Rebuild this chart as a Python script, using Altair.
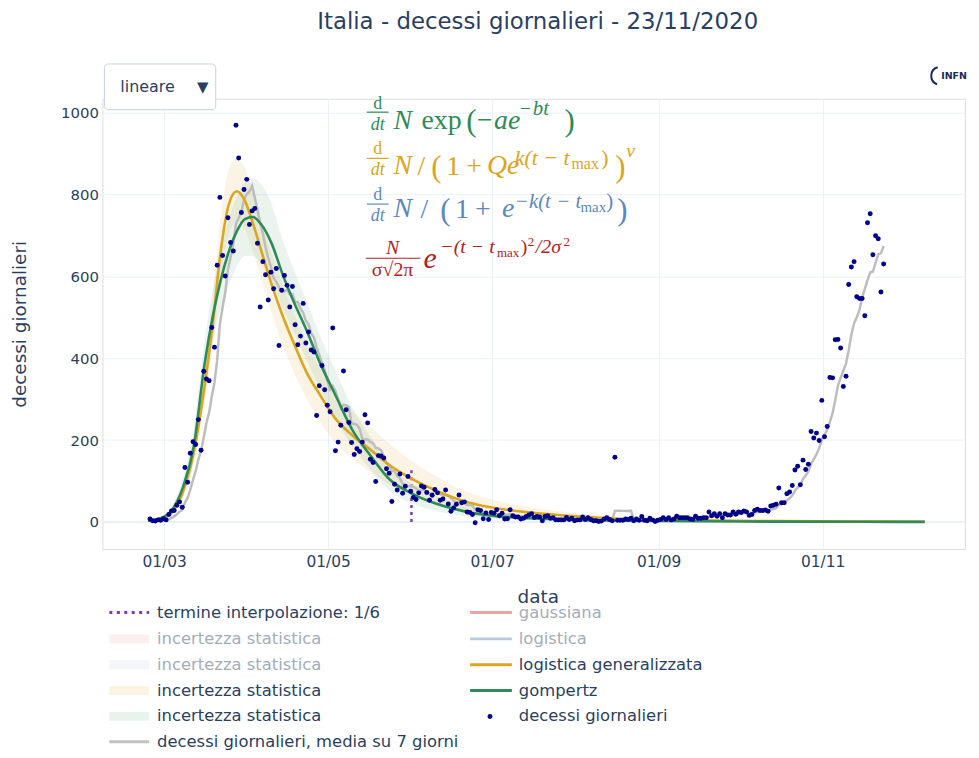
import altair as alt
import pandas as pd

# ---------------- data ----------------
start_date = "2020-02-24"
deaths_feb = [7, 3, 2, 5, 4, 8]
deaths_mar = [5, 18, 27, 28, 41, 49, 36, 133, 97, 168, 196, 189, 250, 175, 368, 349,
              345, 475, 427, 627, 793, 651, 601, 743, 683, 662, 969, 889, 756, 812, 837]
deaths_apr = [727, 760, 766, 681, 525, 636, 604, 542, 610, 570, 619, 431, 566, 602, 578,
              525, 575, 482, 433, 454, 534, 437, 464, 420, 415, 260, 333, 382, 323, 285]
deaths_may = [269, 474, 174, 195, 236, 369, 274, 243, 194, 165, 179, 172, 195, 262, 242,
              153, 145, 99, 162, 161, 156, 130, 119, 50, 92, 78, 117, 70, 87, 111, 75]
deaths_jun = [60, 55, 71, 88, 85, 72, 53, 65, 79, 71, 53, 56, 78, 44, 26, 34, 43, 66, 47,
              49, 24, 23, 18, -2, 30, 28, 8, 22, 6, 23]
deaths_jul = [21, 30, 15, 21, 7, 8, 30, 15, 12, 12, 7, 9, 13, 17, 20, 11, 13, 12, 3, 13,
              15, 9, 10, 5, 5, 5, 5, 11, 6, 9, 3]
deaths_aug = [5, 5, 12, 6, 10, 6, 3, 3, 1, 2, 7, 10, 6, 3, 158, 4, 4, 4, 7, 6, 9, 3, 7,
              4, 13, 4, 3, 9, 5, 1, 4]
deaths_sep = [6, 10, 6, 10, 5, 7, 14, 10, 10, 10, 10, 7, 6, 14, 9, 9, 10, 10, 24, 15, 20,
              14, 20, 10, 20, 17, 17, 24, 19, 24]
deaths_oct = [23, 27, 24, 16, 18, 28, 31, 28, 28, 29, 26, 39, 41, 43, 83, 47, 47, 69, 73,
              89, 127, 136, 91, 151, 128, 141, 221, 205, 217, 199, 297]
deaths_nov = [208, 233, 353, 352, 445, 446, 425, 331, 356, 580, 623, 636, 550, 546, 546,
              504, 731, 753, 653, 699, 692, 562, 630]

daily = (deaths_feb + deaths_mar + deaths_apr + deaths_may + deaths_jun + deaths_jul +
         deaths_aug + deaths_sep + deaths_oct + deaths_nov)
# bulletins are published at 17:00 each day
dates = (pd.date_range(start_date, periods=len(daily), freq="D")
         .strftime("%Y-%m-%dT17:00:00Z").tolist())

fit_dates = ["2020-02-24", "2020-02-29", "2020-03-04", "2020-03-08", "2020-03-12",
             "2020-03-16", "2020-03-19", "2020-03-22", "2020-03-25", "2020-03-28",
             "2020-03-31", "2020-04-03", "2020-04-06", "2020-04-10", "2020-04-14",
             "2020-04-18", "2020-04-23", "2020-04-28", "2020-05-04", "2020-05-10",
             "2020-05-17", "2020-05-24", "2020-06-01", "2020-06-10", "2020-06-20",
             "2020-07-01", "2020-07-15", "2020-08-01", "2020-08-20", "2020-09-15",
             "2020-10-15", "2020-11-15", "2020-12-09"]
# logistica generalizzata (orange)
gl_fit = [3, 8, 25, 75, 170, 330, 480, 660, 775, 808, 785, 730, 665, 580, 505, 440, 365,
          310, 250, 212, 175, 138, 106, 77, 52, 35, 23, 14, 7, 4, 2, 1, 0.5]
gl_lo = [1, 5, 18, 58, 140, 285, 420, 590, 700, 735, 715, 660, 595, 510, 435, 370, 300,
         245, 190, 155, 120, 90, 65, 45, 29, 18, 11, 6, 3, 1.5, 0.7, 0.3, 0.2]
gl_hi = [6, 13, 35, 95, 205, 385, 550, 745, 860, 890, 865, 805, 740, 655, 580, 515, 435,
         375, 310, 270, 230, 190, 150, 112, 78, 55, 36, 22, 12, 7, 3.5, 1.8, 1]
# gompertz (green)
gz_fit = [3, 10, 30, 85, 185, 385, 500, 590, 660, 710, 740, 745, 728, 680, 606, 541, 468,
          388, 306, 225, 160, 103, 70, 45, 27, 15, 9, 5, 3, 1.5, 0.7, 0.3, 0.2]
gz_lo = [1, 6, 20, 62, 150, 330, 440, 520, 580, 625, 650, 650, 630, 590, 525, 465, 395,
         325, 250, 185, 125, 75, 45, 27, 15, 8, 4, 2, 1, 0.5, 0.2, 0.1, 0.05]
gz_hi = [6, 14, 42, 110, 225, 440, 565, 660, 740, 795, 830, 840, 825, 775, 690, 620, 540,
         455, 365, 280, 205, 135, 95, 64, 40, 24, 14, 8, 5, 3, 1.5, 0.6, 0.4]

interp_date = ["2020-06-01"]
interp_low = [0]
interp_high = [128]

legend_left = ["termine interpolazione: 1/6", "incertezza statistica", "incertezza statistica",
               "incertezza statistica", "incertezza statistica",
               "decessi giornalieri, media su 7 giorni"]
legend_right = ["gaussiana", "logistica", "logistica generalizzata", "gompertz",
                "decessi giornalieri"]

df_pts = pd.DataFrame({"date": dates, "deaths": daily})
df_fit = pd.DataFrame({"date": fit_dates, "gl": gl_fit, "gl_lo": gl_lo, "gl_hi": gl_hi,
                       "gz": gz_fit, "gz_lo": gz_lo, "gz_hi": gz_hi})
df_int = pd.DataFrame({"date": interp_date, "y0": interp_low, "y1": interp_high})

# ---------------- styling ----------------
DARK = "#2a3f5f"
FADED = "#a3acba"
GRID = "#EBF0F8"
ORANGE = "#daa520"
GREEN = "#2e8b57"
BLUE = "#5b88c0"
RED = "#b22222"
NAVY = "#00008b"
PURPLE = "#7b3ab8"
FONT = "DejaVu Sans"
SERIF = "Liberation Serif"

W, H = 868, 453
OX, OY = 103, 97  # page position of the plot area

XS = alt.Scale(type="utc", domain=[alt.DateTime(year=2020, month=2, date=7, utc=True),
                                   alt.DateTime(year=2020, month=12, date=24, utc=True)])
XAX = alt.Axis(values=[alt.DateTime(year=2020, month=m, date=1, utc=True) for m in (3, 5, 7, 9, 11)],
               labelExpr="utcFormat(datum.value, '%d/%m')", grid=True, gridColor=GRID, gridWidth=1,
               domain=False, ticks=False, labelFont=FONT, labelFontSize=15.5, labelColor=DARK,
               labelPadding=6, titleFont=FONT, titleFontSize=18.5, titleFontWeight="normal",
               titleColor=DARK, titleX=438, titleY=48, titleBaseline="middle", titleAlign="center")
YS = alt.Scale(domain=[-66, 1034], nice=False, zero=False)
YAX = alt.Axis(values=[0, 200, 400, 600, 800, 1000], format="d", grid=True, gridColor=GRID,
               gridWidth=1, domain=False, ticks=False, labelFont=FONT, labelFontSize=15,
               labelColor=DARK, labelPadding=4, titleFont=FONT, titleFontSize=18.5,
               titleFontWeight="normal", titleColor=DARK, titleX=-83, titleY=226.5,
               titleAngle=270, titleBaseline="middle", titleAlign="center")


def X(f="date"):
    return alt.X(f"{f}:T", scale=XS, axis=XAX, title="data")


def Y(f):
    return alt.Y(f"{f}:Q", scale=YS, axis=YAX, title="decessi giornalieri")


ONE = pd.DataFrame({"k": [0]})


def T(s, px, py, size, color, font=FONT, style="normal", align="left",
      baseline="alphabetic", weight="normal"):
    return alt.Chart(ONE).mark_text(text=s, fontSize=size, color=color, font=font,
                                    fontStyle=style, align=align, baseline=baseline,
                                    fontWeight=weight).encode(
        x=alt.value(px - OX), y=alt.value(py - OY))


def HR(px1, px2, py, color, width=1.2, dash=None, op=1.0):
    kw = dict(color=color, strokeWidth=width, opacity=op)
    if dash:
        kw["strokeDash"] = dash
    return alt.Chart(ONE).mark_rule(**kw).encode(
        x=alt.value(px1 - OX), x2=alt.value(px2 - OX), y=alt.value(py - OY))


def RECT(px1, py1, px2, py2, fill, stroke=None, radius=0):
    kw = dict(fill=fill, cornerRadius=radius, opacity=1)
    if stroke:
        kw["stroke"] = stroke
        kw["strokeWidth"] = 1
    return alt.Chart(ONE).mark_rect(**kw).encode(
        x=alt.value(px1 - OX), x2=alt.value(px2 - OX),
        y=alt.value(py1 - OY), y2=alt.value(py2 - OY))


# ---------------- data layers ----------------
zero = alt.Chart(pd.DataFrame({"zero": [0]})).mark_rule(color=GRID, strokeWidth=2).encode(y=Y("zero"))
interp = alt.Chart(df_int).mark_rule(color=PURPLE, strokeWidth=2.5, strokeDash=[3, 4]).encode(
    x=X(), y=Y("y0"), y2=alt.Y2("y1"))
band_gl = alt.Chart(df_fit).mark_area(color=ORANGE, opacity=0.12, interpolate="monotone").encode(
    x=X(), y=Y("gl_lo"), y2=alt.Y2("gl_hi"))
band_gz = alt.Chart(df_fit).mark_area(color=GREEN, opacity=0.1, interpolate="monotone").encode(
    x=X(), y=Y("gz_lo"), y2=alt.Y2("gz_hi"))
avg = alt.Chart(df_pts).transform_window(
    avg="mean(deaths)", frame=[-6, 0], sort=[alt.SortField("date", order="ascending")]
).mark_line(color="#bdbdbd", strokeWidth=2.5).encode(x=X(), y=Y("avg"))
line_gl = alt.Chart(df_fit).mark_line(color=ORANGE, strokeWidth=2.6, interpolate="monotone").encode(
    x=X(), y=Y("gl"))
line_gz = alt.Chart(df_fit).mark_line(color=GREEN, strokeWidth=2.6, interpolate="monotone").encode(
    x=X(), y=Y("gz"))
pts = alt.Chart(df_pts).mark_circle(size=25, color=NAVY, opacity=1).encode(x=X(), y=Y("deaths"))

layers = [zero, interp, band_gl, band_gz, avg, line_gl, line_gz, pts]

# ---------------- title, dropdown, logo ----------------
layers += [
    T("Italia - decessi giornalieri - 23/11/2020", 541, 20, 23, DARK, align="center", baseline="middle"),
    RECT(105, 62, 217, 108, "white", stroke="#c8d0dc", radius=4),
    T("lineare", 121, 85, 16, DARK, baseline="middle"),
    T("▼", 204, 85, 15, DARK, align="center", baseline="middle"),
    T("INFN", 947, 74, 9.5, "#1b2a5c", weight="bold", baseline="middle"),
    alt.Chart(ONE).mark_arc(radius=10, radius2=8, theta=3.5, theta2=6.0, color="#1b2a5c").encode(
        x=alt.value(946 - OX), y=alt.value(74 - OY)),
]

# ---------------- formulas ----------------
def frac(num, den, cx, ynum, ybar, yden, x1, x2, color, size=18, numstyle="normal"):
    return [T(num, cx, ynum, size, color, font=SERIF, style=numstyle, align="center"),
            HR(x1, x2, ybar, color, width=1.2),
            T(den, cx, yden, size, color, font=SERIF, style="italic" if den == "dt" else "normal",
              align="center")]

# line 1 gompertz
layers += frac("d", "dt", 380, 107, 110.5, 128, 369, 391, GREEN)
layers += [T("N", 396, 127, 28, GREEN, font=SERIF, style="italic"),
           T("exp", 424, 127, 28, GREEN, font=SERIF),
           T("(", 469, 129, 31, GREEN, font=SERIF),
           T("−", 480, 127, 28, GREEN, font=SERIF),
           T("ae", 497, 127, 28, GREEN, font=SERIF, style="italic"),
           T("−", 523, 113, 20, GREEN, font=SERIF),
           T("bt", 536, 113, 21, GREEN, font=SERIF, style="italic"),
           T(")", 568, 129, 31, GREEN, font=SERIF)]
# line 2 generalized logistic
layers += frac("d", "dt", 380, 153, 157, 174, 369, 391, ORANGE)
layers += [T("N", 396, 173, 28, ORANGE, font=SERIF, style="italic"),
           T("/", 420, 174, 28, ORANGE, font=SERIF),
           T("(", 434, 176, 31, ORANGE, font=SERIF),
           T("1", 449, 174, 28, ORANGE, font=SERIF),
           T("+", 469, 174, 28, ORANGE, font=SERIF),
           T("Qe", 490, 173, 28, ORANGE, font=SERIF, style="italic"),
           T("k(t − t", 518, 164, 22, ORANGE, font=SERIF, style="italic"),
           T("max", 575, 168, 16, ORANGE, font=SERIF),
           T(")", 605, 164, 22, ORANGE, font=SERIF),
           T(")", 619, 176, 31, ORANGE, font=SERIF),
           T("ν", 630, 156, 20, ORANGE, font=SERIF, style="italic")]
# line 3 logistic
layers += frac("d", "dt", 380, 199, 203, 220, 369, 391, BLUE)
layers += [T("N", 396, 216, 28, BLUE, font=SERIF, style="italic"),
           T("/", 423, 217, 28, BLUE, font=SERIF),
           T("(", 443, 219, 31, BLUE, font=SERIF),
           T("1", 458, 217, 28, BLUE, font=SERIF),
           T("+", 478, 217, 28, BLUE, font=SERIF),
           T("e", 505, 216, 28, BLUE, font=SERIF, style="italic"),
           T("−k(t − t", 518, 207, 21, BLUE, font=SERIF, style="italic"),
           T("max", 584, 211, 15, BLUE, font=SERIF),
           T(")", 610, 207, 21, BLUE, font=SERIF),
           T(")", 621, 219, 31, BLUE, font=SERIF)]
# line 4 gaussian
layers += frac("N", "σ√2π", 395, 253, 257.5, 275, 368, 423, RED, size=20, numstyle="italic")
layers += [T("e", 426, 267, 30, RED, font=SERIF, style="italic"),
           T("−(t − t", 443, 252, 20, RED, font=SERIF, style="italic"),
           T("max", 500, 256, 13, RED, font=SERIF),
           T(")", 524, 252, 20, RED, font=SERIF),
           T("2", 531, 245, 13, RED, font=SERIF),
           T("/2σ", 539, 252, 20, RED, font=SERIF, style="italic"),
           T("2", 567, 245, 13, RED, font=SERIF)]

# ---------------- legend ----------------
rows = [614, 640.5, 666.5, 692.5, 718.5, 744]
LX1, LX2, LT = 110, 150, 158
RX1, RX2, RT = 473, 515, 522
LFS = 16.5
left_colors = [DARK, FADED, FADED, DARK, DARK, DARK]
band_fills = ["#fbeff0", "#f4f6fa", "#fcf4e2", "#e9f3ed"]
layers.append(HR(LX1, LX2, rows[0], PURPLE, width=3, dash=[3, 4.5]))
for i, fill in enumerate(band_fills):
    y = rows[i + 1]
    layers.append(RECT(LX1, y - 4.5, LX2, y + 4.5, fill))
layers.append(HR(LX1, LX2, rows[5], "#c2c2c2", width=3))
for i, lab in enumerate(legend_left):
    layers.append(T(lab, LT, rows[i], LFS, left_colors[i], baseline="middle"))

right_line_colors = ["#e6a6a6", "#b8c9de", ORANGE, GREEN]
right_text_colors = [FADED, FADED, DARK, DARK, DARK]
for i, c in enumerate(right_line_colors):
    layers.append(HR(RX1, RX2, rows[i], c, width=3))
layers.append(alt.Chart(ONE).mark_circle(size=25, color=NAVY, opacity=1).encode(
    x=alt.value(493 - OX), y=alt.value(rows[4] - OY)))
for i, lab in enumerate(legend_right):
    layers.append(T(lab, RT, rows[i], LFS, right_text_colors[i], baseline="middle"))

chart = alt.layer(*layers).properties(
    width=W, height=H,
    padding={"left": OX - 8, "top": OY - 8, "right": 6, "bottom": 200},
    autosize=alt.AutoSizeParams(type="none"),
).configure_view(stroke=None).configure(background="white")

chart.save("out.html", embed_options={"renderer": "svg", "actions": False})
